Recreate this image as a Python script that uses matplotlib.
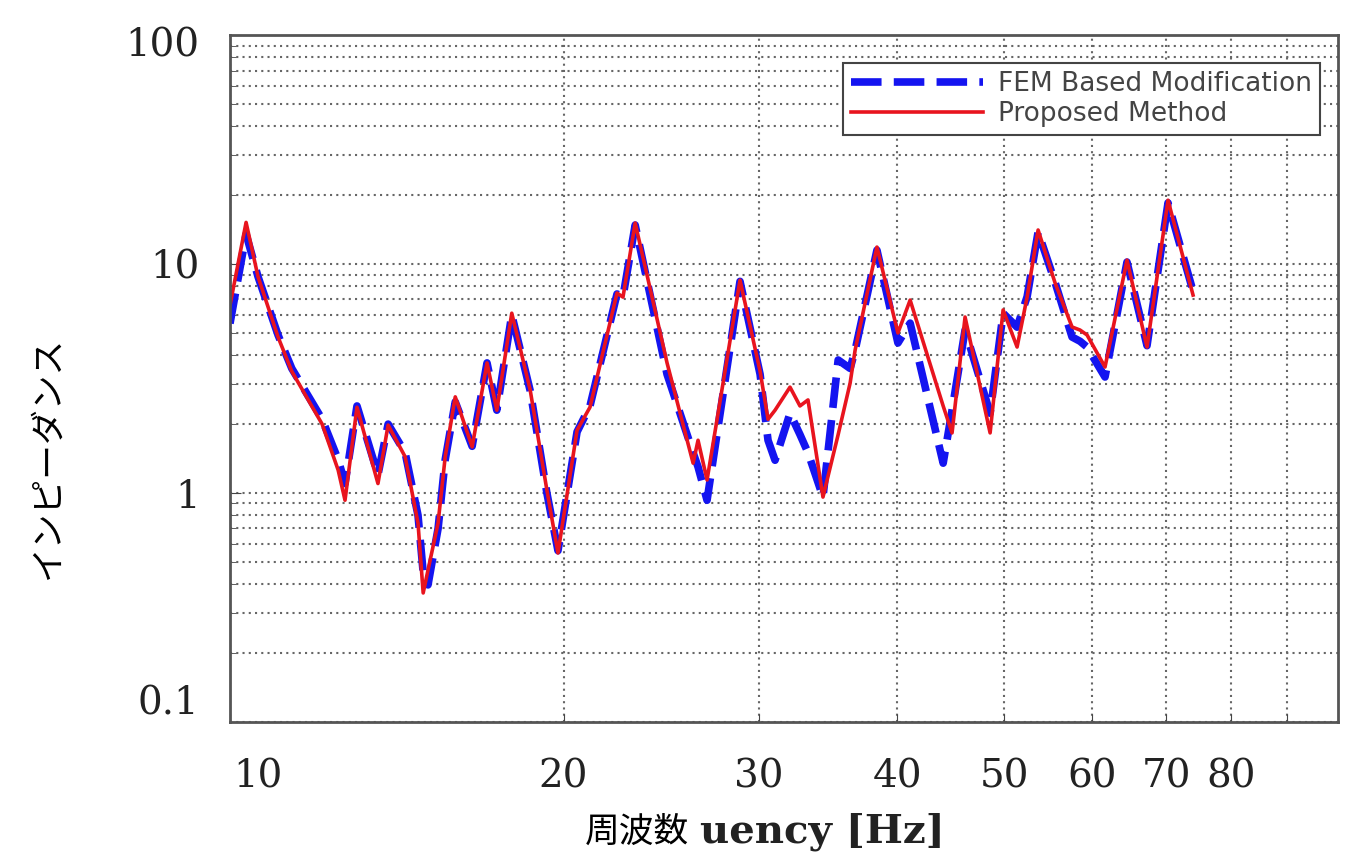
import numpy as np
import matplotlib.pyplot as plt
from matplotlib.ticker import FixedLocator
import matplotlib.transforms as mtransforms

# frequency [Hz] (shared by both curves)
freq = [10.0, 10.34, 10.60, 11.05, 11.37, 12.11, 12.52, 12.70, 13.02, 13.60,
        13.89, 14.39, 14.78, 14.94, 15.09, 15.41, 15.64, 15.97, 16.54, 17.06,
        17.41, 17.96, 18.66, 19.32, 19.77, 20.57, 21.13, 22.35, 22.63, 23.21,
        24.80, 26.18, 26.45, 26.95, 28.86, 30.09, 30.59, 31.04, 32.02, 32.69,
        33.24, 34.29, 35.39, 36.28, 36.66, 38.36, 40.07, 41.10, 44.02, 44.84,
        46.07, 48.53, 49.86, 51.33, 52.41, 53.62, 55.55, 57.54, 58.50, 59.36,
        61.62, 64.50, 67.24, 70.24, 73.99]

fem = [5.5, 13.5, 8.8, 4.9, 3.5, 2.1, 1.4, 1.1, 2.4, 1.2,
       2.0, 1.5, 0.8, 0.45, 0.397, 0.7, 1.4, 2.5, 1.6, 3.7,
       2.3, 6.0, 2.8, 1.0, 0.56, 1.85, 2.4, 7.4, 7.2, 14.8,
       3.3, 1.5, 1.3, 0.93, 8.4, 3.3, 1.7, 1.39, 2.23, 1.8,
       1.5, 0.96, 3.81, 3.5, 4.2, 11.5, 4.52, 5.52, 1.35, 2.3,
       5.15, 2.23, 6.1, 5.3, 7.2, 13.8, 8.3, 4.8, 4.6, 4.34,
       3.21, 10.2, 4.4, 18.5, 7.6]

proposed = [6.6, 15.2, 8.8, 4.8, 3.4, 2.0, 1.26, 0.93, 2.37, 1.1,
            1.98, 1.44, 0.74, 0.366, 0.46, 0.74, 1.44, 2.63, 1.59, 3.7,
            2.3, 6.1, 2.82, 1.03, 0.547, 1.88, 2.37, 7.47, 7.17, 15.1,
            3.7, 1.35, 1.7, 1.14, 8.5, 3.4, 2.1, 2.3, 2.9, 2.4,
            2.55, 0.96, 1.8, 3.02, 4.21, 11.86, 5.0, 6.96, 2.4, 1.83,
            5.87, 1.83, 6.3, 4.34, 7.17, 14.08, 8.26, 5.31, 5.15, 4.9,
            3.55, 10.4, 4.34, 19.0, 7.32]

xticks = [10, 20, 30, 40, 50, 60, 70, 80]
yticks = [0.1, 1, 10, 100]
ytick_labels = ["0.1", "1", "10", "100"]

fig = plt.figure(figsize=(13.45, 8.65), dpi=100)
ax = fig.add_axes([0.171, 0.1653, 0.8238, 0.7942])

ax.plot(freq, fem, color="#1414f0", lw=5.5, ls=(0, (4, 1.6)), label="FEM Based Modification")
ax.plot(freq, proposed, color="#e8141e", lw=2.6, label="Proposed Method")

ax.set_xscale("log")
ax.set_yscale("log")
ax.set_xlim(10, 100)
ax.set_ylim(0.1, 100)

ax.xaxis.set_major_locator(FixedLocator(xticks + [90]))
ax.xaxis.set_minor_locator(FixedLocator([]))
ax.set_xticklabels([str(t) for t in xticks] + [""])
ax.set_yticks(yticks)
ax.set_yticklabels(ytick_labels)

ax.grid(which="both", ls=(0, (1, 2)), color="#666666", lw=1.5)
ax.tick_params(which="both", direction="in", color="#444444")
ax.tick_params(axis="x", which="major", length=6, pad=26, labelsize=28)
ax.tick_params(axis="y", which="major", length=8, pad=22, labelsize=28)
ax.tick_params(axis="y", which="minor", length=4)
for lab in ax.get_xticklabels() + ax.get_yticklabels():
    lab.set_family("DejaVu Serif")
    lab.set_color("#222222")

# shift the first x label and the outer y labels like the original
offs = mtransforms.ScaledTranslation(28 / 100, 0, fig.dpi_scale_trans)
xl = ax.get_xticklabels()
xl[0].set_transform(xl[0].get_transform() + offs)
yl = ax.get_yticklabels()
yl[0].set_transform(yl[0].get_transform() + mtransforms.ScaledTranslation(0, 22 / 100, fig.dpi_scale_trans))
yl[-1].set_transform(yl[-1].get_transform() + mtransforms.ScaledTranslation(0, -7 / 100, fig.dpi_scale_trans))

for sp in ax.spines.values():
    sp.set_color("#555555")
    sp.set_linewidth(2)

leg = ax.legend(loc="upper right", bbox_to_anchor=(0.984, 0.959), borderaxespad=0,
                fancybox=False, framealpha=1, edgecolor="#444444",
                handlelength=5.0, handletextpad=0.6, fontsize=19, labelcolor="#444444",
                borderpad=0.3, labelspacing=0.15)
leg.get_frame().set_linewidth(1.5)

fig.text(48 / 1345, 1 - 458 / 865, "インピーダンス", rotation=90, ha="center", va="center",
         fontsize=25, family=["Noto Sans CJK JP", "DejaVu Sans"])
fig.text(585 / 1345, 1 - 832 / 865, "周波数", ha="left", va="center",
         fontsize=25, family=["Noto Sans CJK JP", "DejaVu Sans"])
fig.text(700 / 1345, 1 - 832 / 865, "uency [Hz]", ha="left", va="center",
         fontsize=29, family="DejaVu Serif", weight="bold", color="#222222")

fig.savefig("out.png", dpi=100)
